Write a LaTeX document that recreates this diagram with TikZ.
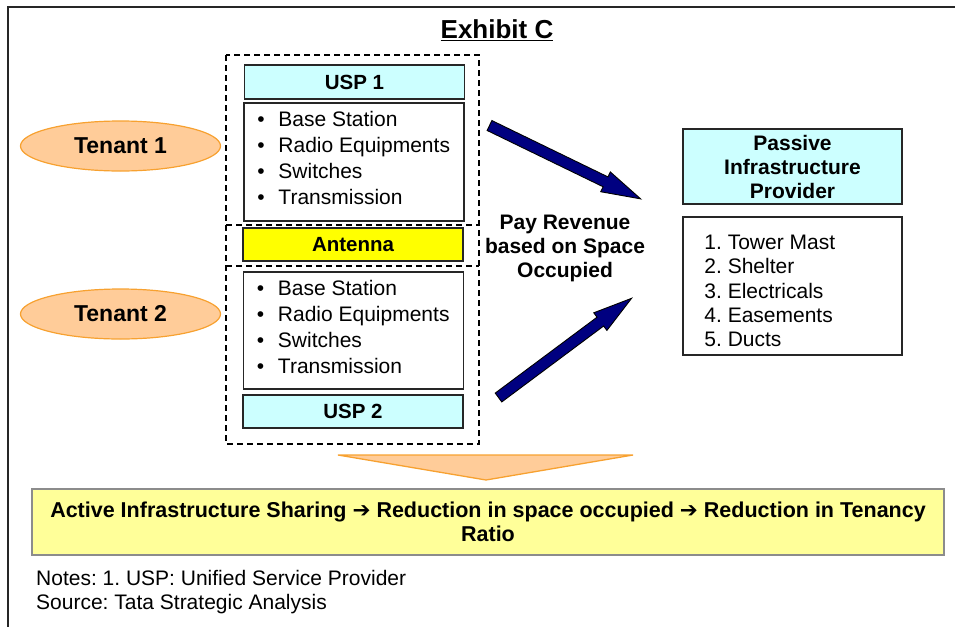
\documentclass[tikz,border=0pt]{standalone}
\usepackage{fontspec}
\usepackage{xcolor}
\usepackage{tikz}
\setmainfont{Liberation Sans}
\newfontfamily\arrowfont{DejaVu Sans}
\usetikzlibrary{shapes.geometric}
\frenchspacing

\definecolor{uspcyan}{HTML}{CCFFFF}
\definecolor{tenantfill}{HTML}{FFCC99}
\definecolor{tenantedge}{HTML}{F7A130}
\definecolor{antennayellow}{HTML}{FFFF00}
\definecolor{summaryfill}{HTML}{FFFF99}
\definecolor{summaryedge}{HTML}{8C8C8C}
\definecolor{revnavy}{HTML}{000080}
\definecolor{boxedge}{HTML}{262626}

\newcommand{\bitem}{\makebox[21pt][l]{\textbullet}}
\newcommand{\thenarrow}{{\arrowfont\symbol{"2794}}}

\begin{document}
\begin{tikzpicture}[x=1pt, y=-1pt,
    box/.style={draw=boxedge, line width=1.5pt, inner sep=0pt},
    headbox/.style={box, fill=uspcyan, minimum width=220pt, minimum height=34pt,
      font=\fontsize{20.5}{24}\selectfont\bfseries},
    listbox/.style={box, fill=white, minimum width=220pt, minimum height=118pt},
    listtext/.style={anchor=west, inner sep=0pt, align=left, font=\fontsize{21}{26}\selectfont},
    tenant/.style={ellipse, draw=tenantedge, fill=tenantfill, line width=1.2pt,
      minimum width=200pt, minimum height=50pt, inner sep=0pt,
      font=\fontsize{23}{26}\selectfont\bfseries},
    grouping/.style={dash pattern=on 6pt off 4pt, line width=1.3pt},
    revarrow/.style={fill=revnavy, draw=black, line width=0.9pt, line join=miter}
  ]
  \useasboundingbox (0,0) rectangle (955,627);

  % Outer frame
  \draw[line width=2pt, boxedge] (955,7) -- (8,7) -- (8,627);

  % Title
  \node (title) at (497,30) {\fontsize{26}{30}\selectfont\bfseries\underline{Exhibit C}};

  % Dashed grouping of the shared site
  \draw[grouping] (226,55) rectangle (479,444);
  \draw[grouping] (226,225) -- (479,225);
  \draw[grouping] (226,266) -- (479,266);

  % Tenant 1 stack
  \node[headbox] (usp1) at (354.5,82) {USP 1};
  \node[listbox] (equip1) at (354,162) {};
  \node[listtext, xshift=14pt, yshift=4pt] (items1) at (equip1.west)
    {\bitem Base Station\\ \bitem Radio Equipments\\ \bitem Switches\\ \bitem Transmission};

  % Shared antenna
  \node[headbox, fill=antennayellow, minimum height=33pt] (antenna) at (353,244.5) {Antenna};

  % Tenant 2 stack
  \node[listbox, minimum height=117pt] (equip2) at (353.5,330.5) {};
  \node[listtext, xshift=14pt, yshift=4pt] (items2) at (equip2.west)
    {\bitem Base Station\\ \bitem Radio Equipments\\ \bitem Switches\\ \bitem Transmission};
  \node[headbox, minimum height=33pt] (usp2) at (353,411.5) {USP 2};

  % Tenants
  \node[tenant] (tenant1) at (120.5,146) {Tenant 1};
  \node[tenant] (tenant2) at (120.5,314) {Tenant 2};

  % Revenue arrows
  \coordinate (tail1) at (489.5,125.5);
  \coordinate (tail2) at (498.5,397.5);
  \begin{scope}[shift={(tail1)}, rotate=-25.9]
    \draw[revarrow] (0,-5.5) -- (129,-5.5) -- (129,-11) -- (168,0)
      -- (129,11) -- (129,5.5) -- (0,5.5) -- cycle;
  \end{scope}
  \begin{scope}[shift={(tail2)}, rotate=36.7]
    \draw[revarrow] (0,-5.5) -- (127,-5.5) -- (127,-11) -- (166,0)
      -- (127,11) -- (127,5.5) -- (0,5.5) -- cycle;
  \end{scope}
  \node[align=center, font=\fontsize{21}{24}\selectfont\bfseries] (revenue) at (565,248)
    {Pay Revenue\\based on Space\\Occupied};

  % Passive infrastructure provider
  \node[box, fill=uspcyan, minimum width=219pt, minimum height=75pt, align=center,
    font=\fontsize{21}{24}\selectfont\bfseries] (passive) at (792.5,166.5)
    {Passive\\Infrastructure\\Provider};
  \node[box, minimum width=219pt, minimum height=138pt] (assets) at (792.5,286) {};
  \node[listtext, xshift=22pt, yshift=-5pt, font=\fontsize{21}{24.3}\selectfont] (assetlist) at (assets.west)
    {1. Tower Mast\\2. Shelter\\3. Electricals\\4. Easements\\5. Ducts};

  % Funnel to the conclusion
  \draw[draw=tenantedge, fill=tenantfill, line width=1.3pt, line join=miter]
    (338,455) -- (633,455) -- (486,480) -- cycle;

  % Conclusion box
  \node[draw=summaryedge, fill=summaryfill, line width=2pt, minimum width=912pt,
    minimum height=66pt, align=center, font=\fontsize{21.5}{24}\selectfont\bfseries] (summary) at (488,522)
    {Active Infrastructure Sharing \thenarrow{} Reduction in space occupied
      \thenarrow{} Reduction in Tenancy\\Ratio};

  % Notes
  \node[anchor=base west, inner sep=0pt, font=\fontsize{21}{24}\selectfont] (notes) at (36,585)
    {Notes: 1. USP: Unified Service Provider};
  \node[anchor=base west, inner sep=0pt, font=\fontsize{21}{24}\selectfont] (source) at (36,609.5)
    {Source: Tata Strategic Analysis};
\end{tikzpicture}
\end{document}
